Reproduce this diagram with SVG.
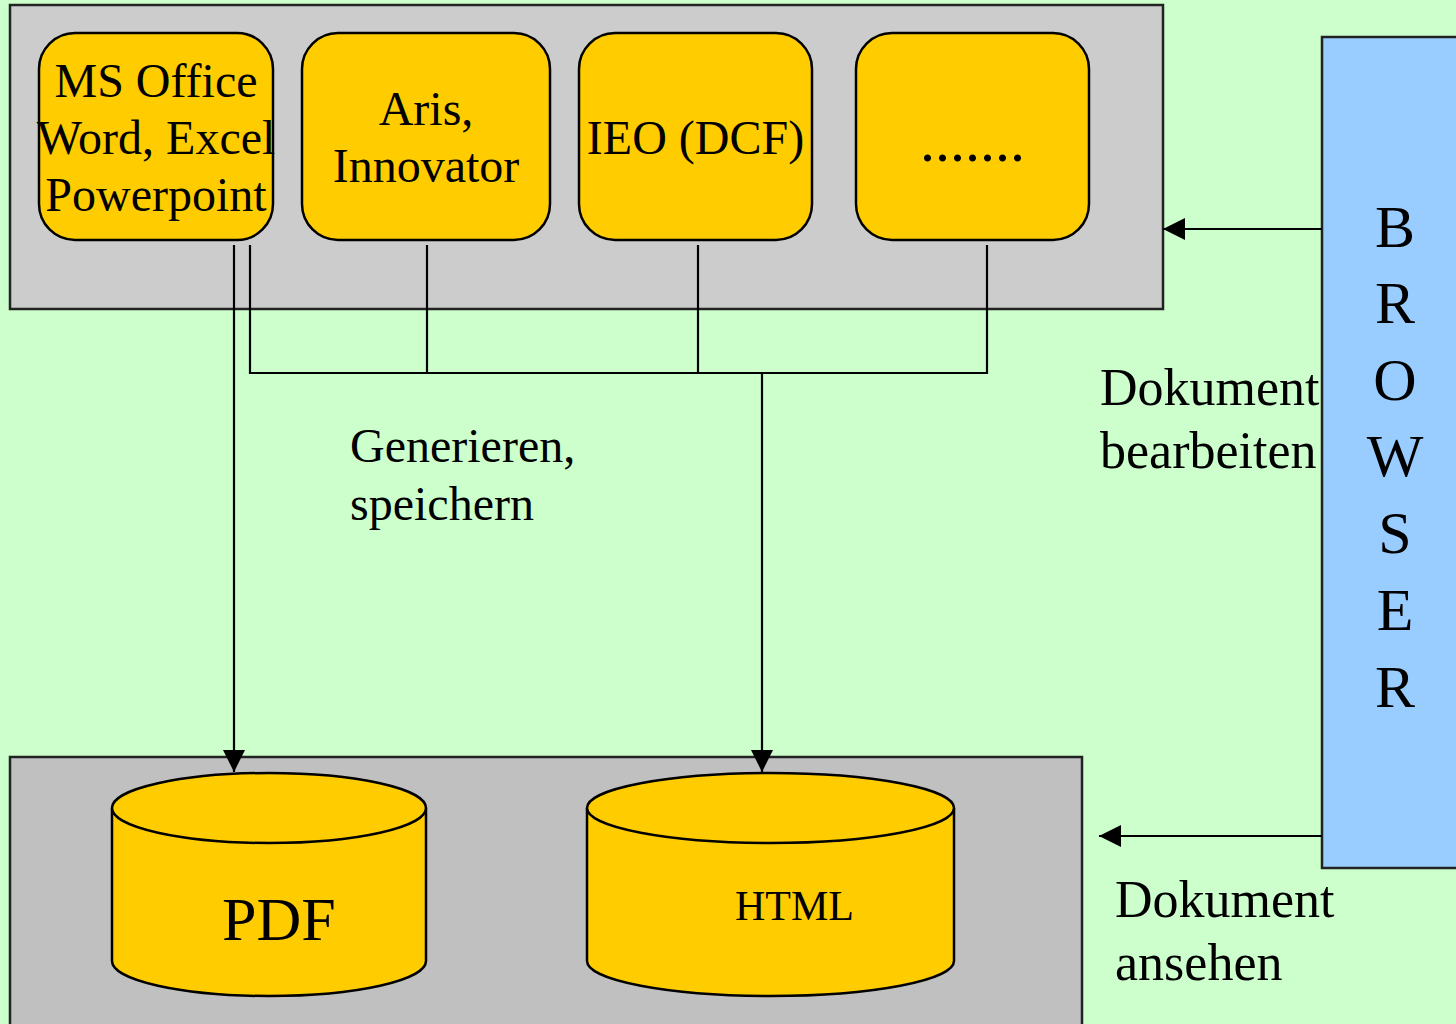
<svg xmlns="http://www.w3.org/2000/svg" width="1456" height="1024" viewBox="0 0 1456 1024">
<defs>
<marker id="ah" viewBox="0 0 22 22" refX="22" refY="11" markerWidth="22" markerHeight="22" markerUnits="userSpaceOnUse" orient="auto">
<path d="M0,0 L22,11 L0,22 Z" fill="#000"/>
</marker>
<style>
text{font-family:"Liberation Serif","Times New Roman",serif;fill:#000}
.t48{font-size:48px}
.box{fill:#FFCC00;stroke:#000;stroke-width:2.5}
.cyl{fill:#FFCC00;stroke:#000;stroke-width:2.5}
.con{stroke:#000;stroke-width:2.2;fill:none}
.lbl{font-size:52px}
.br{font-size:60px;text-anchor:middle}
</style>
</defs>
<rect x="0" y="0" width="1456" height="1024" fill="#CCFFCC"/>
<g id="top-panel"><rect x="10" y="5" width="1153" height="304" fill="#CCCCCC" stroke="#222" stroke-width="2.5"/></g>
<g id="bottom-panel"><rect x="10" y="757" width="1072" height="280" fill="#C0C0C0" stroke="#222" stroke-width="2.5"/></g>
<g id="browser"><rect x="1322" y="37" width="150" height="831" fill="#99CCFF" stroke="#222" stroke-width="2.5"/>
<text class="br" x="1395" y="247">B</text>
<text class="br" x="1395" y="323">R</text>
<text class="br" x="1395" y="400">O</text>
<text class="br" x="1395" y="476">W</text>
<text class="br" x="1395" y="553">S</text>
<text class="br" x="1395" y="630">E</text>
<text class="br" x="1395" y="707">R</text>
</g>
<g id="ms-office"><rect class="box" x="39" y="33" width="234" height="207" rx="36"/>
<text class="t48" text-anchor="middle" x="156" y="97">MS Office</text>
<text class="t48" text-anchor="middle" x="156" y="154">Word, Excel</text>
<text class="t48" text-anchor="middle" x="156" y="211">Powerpoint</text></g>
<g id="aris"><rect class="box" x="302" y="33" width="248" height="207" rx="36"/>
<text class="t48" text-anchor="middle" x="426" y="125">Aris,</text>
<text class="t48" text-anchor="middle" x="426" y="182">Innovator</text></g>
<g id="ieo"><rect class="box" x="579" y="33" width="233" height="207" rx="36"/>
<text class="t48" text-anchor="middle" x="695.5" y="154">IEO (DCF)</text></g>
<g id="more"><rect class="box" x="856" y="33" width="233" height="207" rx="36"/>
<text text-anchor="middle" x="972.5" y="161" style="font-size:60px">.......</text></g>
<g id="pdf">
<path class="cyl" d="M112,808 L112,961 A157,35 0 0 0 426,961 L426,808 A157,35 0 0 0 112,808 Z"/>
<path class="cyl" d="M112,808 A157,35 0 0 0 426,808"/>
<text x="222" y="940" style="font-size:62px">PDF</text></g>
<g id="html">
<path class="cyl" d="M587,808 L587,961 A183.5,35 0 0 0 954,961 L954,808 A183.5,35 0 0 0 587,808 Z"/>
<path class="cyl" d="M587,808 A183.5,35 0 0 0 954,808"/>
<text x="735" y="920" style="font-size:42px">HTML</text></g>
<g id="connectors">
<line class="con" x1="234" y1="245" x2="234" y2="772" marker-end="url(#ah)"/>
<polyline class="con" points="250,245 250,373 987,373 987,245"/>
<line class="con" x1="427" y1="245" x2="427" y2="373"/>
<line class="con" x1="698" y1="245" x2="698" y2="373"/>
<line class="con" x1="762" y1="373" x2="762" y2="772" marker-end="url(#ah)"/>
<line class="con" x1="1322" y1="229" x2="1163" y2="229" marker-end="url(#ah)"/>
<line class="con" x1="1322" y1="836" x2="1099" y2="836" marker-end="url(#ah)"/>
</g>
<g id="labels">
<text class="t48" x="350" y="462">Generieren,</text>
<text class="t48" x="350" y="520">speichern</text>
<text class="lbl" x="1100" y="405">Dokument</text>
<text class="lbl" x="1100" y="468">bearbeiten</text>
<text class="lbl" x="1115" y="917">Dokument</text>
<text class="lbl" x="1115" y="980">ansehen</text>
</g>
</svg>
